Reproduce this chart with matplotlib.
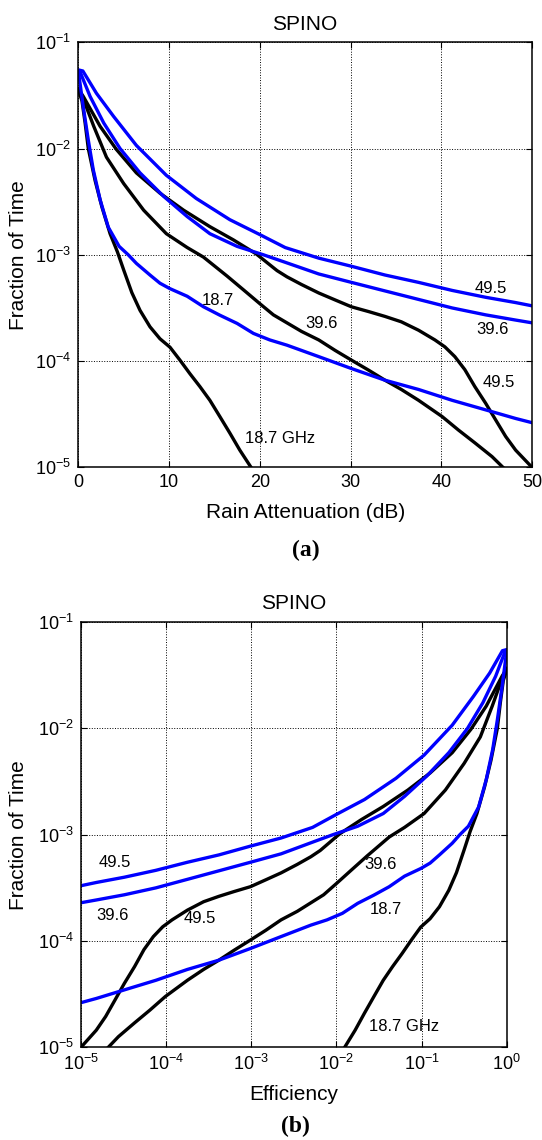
import numpy as np
import matplotlib
matplotlib.use("Agg")
import matplotlib.pyplot as plt
from matplotlib.ticker import FixedLocator, NullLocator

plt.rcParams['font.family'] = ['Liberation Sans', 'DejaVu Sans']
plt.rcParams['mathtext.fontset'] = 'custom'
plt.rcParams['mathtext.rm'] = 'Liberation Sans'
plt.rcParams['mathtext.it'] = 'Liberation Sans:italic'
plt.rcParams['mathtext.bf'] = 'Liberation Sans:bold'

# rain attenuation (dB) vs fraction of time
blk187_db = [0, 0.4, 0.75, 1.1, 1.85, 2.6, 3.5, 4.3, 5.0, 5.9, 6.8, 7.9, 9.0, 10.1,
             11.2, 12.3, 13.4, 14.5, 15.6, 16.7, 17.8, 19.1]
blk187_p = [3.55e-2, 2.82e-2, 1.74e-2, 1.0e-2, 5.0e-3, 2.82e-3, 1.58e-3, 1.07e-3, 7.2e-4,
            4.4e-4, 3.0e-4, 2.1e-4, 1.62e-4, 1.35e-4, 1.02e-4, 7.6e-5, 5.75e-5, 4.27e-5,
            3.0e-5, 2.1e-5, 1.45e-5, 9.8e-6]

blk396_db = [0, 0.4, 1.7, 3.1, 5.0, 7.2, 9.7, 12.0, 13.8, 16.4, 18.2, 20.0, 21.5, 22.8,
             24.6, 26.5, 28.3, 30.1, 32.0, 33.8, 35.6, 37.5, 40.1, 41.9, 43.7, 45.6, 46.9]
blk396_p = [3.63e-2, 3.16e-2, 1.62e-2, 8.3e-3, 4.68e-3, 2.63e-3, 1.58e-3, 1.17e-3, 9.5e-4,
            6.3e-4, 4.68e-4, 3.47e-4, 2.72e-4, 2.34e-4, 1.9e-4, 1.58e-4, 1.26e-4, 1.02e-4,
            8.2e-5, 6.6e-5, 5.4e-5, 4.27e-5, 3.0e-5, 2.24e-5, 1.7e-5, 1.26e-5, 9.8e-6]

blk495_db = [0, 0.55, 2.4, 4.2, 6.4, 9.0, 11.6, 14.5, 17.1, 19.6, 21.9, 23.0, 24.6,
             26.5, 28.3, 30.1, 32.0, 33.8, 35.6, 37.5, 39.3, 40.4, 41.5, 42.6, 43.7, 44.9,
             46.0, 47.1, 48.2, 50]
blk495_p = [3.63e-2, 3.09e-2, 1.62e-2, 9.8e-3, 5.9e-3, 3.8e-3, 2.63e-3, 1.84e-3, 1.38e-3,
            1.02e-3, 7.1e-4, 6.2e-4, 5.25e-4, 4.37e-4, 3.76e-4, 3.24e-4, 2.92e-4,
            2.63e-4, 2.34e-4, 1.95e-4, 1.58e-4, 1.36e-4, 1.1e-4, 8.3e-5, 5.75e-5, 4.0e-5,
            2.79e-5, 1.95e-5, 1.45e-5, 1.0e-5]

blu187_db = [0, 0.55, 1.1, 1.65, 2.4, 3.3, 4.5, 5.5, 6.4, 7.9, 9.0, 10.1, 12.0, 13.8, 15.6,
             17.5, 19.3, 21.1, 23.0, 26.5, 30.1, 33.8, 37.5, 41.2, 44.9, 48.2, 50]
blu187_p = [5.37e-2, 2.45e-2, 1.2e-2, 6.3e-3, 3.3e-3, 1.82e-3, 1.2e-3, 1.0e-3, 8.3e-4,
            6.45e-4, 5.4e-4, 4.8e-4, 4.07e-4, 3.24e-4, 2.7e-4, 2.26e-4, 1.82e-4, 1.58e-4,
            1.41e-4, 1.1e-4, 8.5e-5, 6.6e-5, 5.4e-5, 4.27e-5, 3.47e-5, 2.88e-5, 2.63e-5]

blu396_db = [0, 0.2, 1.3, 2.8, 4.6, 6.8, 9.4, 12.0, 14.5, 17.5, 20.4, 22.8, 26.5, 30.1,
             33.8, 37.5, 41.2, 44.9, 48.2, 50]
blu396_p = [5.37e-2, 5.25e-2, 3.09e-2, 1.74e-2, 1.0e-2, 5.9e-3, 3.55e-3, 2.29e-3, 1.58e-3,
            1.2e-3, 1.0e-3, 8.5e-4, 6.6e-4, 5.5e-4, 4.57e-4, 3.8e-4, 3.16e-4, 2.72e-4,
            2.43e-4, 2.29e-4]

blu495_db = [0, 0.5, 2.0, 3.9, 6.4, 9.7, 13.0, 16.7, 20.0, 22.8, 26.5, 30.1, 33.8, 37.5,
             41.2, 44.9, 48.2, 50]
blu495_p = [5.5e-2, 5.37e-2, 3.31e-2, 2.0e-2, 1.07e-2, 5.6e-3, 3.39e-3, 2.14e-3, 1.55e-3,
            1.17e-3, 9.3e-4, 7.8e-4, 6.45e-4, 5.5e-4, 4.62e-4, 3.98e-4, 3.55e-4, 3.31e-4]

curves = [
    (blk187_db, blk187_p, 'black'),
    (blk396_db, blk396_p, 'black'),
    (blk495_db, blk495_p, 'black'),
    (blu187_db, blu187_p, 'blue'),
    (blu396_db, blu396_p, 'blue'),
    (blu495_db, blu495_p, 'blue'),
]

# labels: (text, attenuation dB, fraction) for (a); (text, efficiency, fraction) for (b)
labels_a = [('49.5', 45.5, 4.84e-4), ('39.6', 45.6, 2.0e-4), ('49.5', 46.3, 6.3e-5),
            ('39.6', 26.8, 2.26e-4), ('18.7', 15.4, 3.7e-4)]
ghz_a = ('18.7 GHz', 18.4, 1.87e-5)
labels_b = [('49.5', 2.48e-5, 5.44e-4), ('39.6', 2.34e-5, 1.75e-4), ('49.5', 2.48e-4, 1.62e-4),
            ('39.6', 3.27e-2, 5.28e-4), ('18.7', 3.8e-2, 1.98e-4)]
ghz_b = ('18.7 GHz', 2.4e-2, 1.56e-5)

yticks = [1e-5, 1e-4, 1e-3, 1e-2, 1e-1]


def style_axes(ax):
    ax.set_yscale('log')
    ax.set_ylim(1e-5, 1e-1)
    ax.yaxis.set_major_locator(FixedLocator(yticks))
    ax.yaxis.set_minor_locator(NullLocator())
    ax.grid(True, which='major', color='black', linestyle=':', linewidth=0.7)
    ax.tick_params(which='both', direction='in', length=4, width=0.8,
                   top=True, right=True, labelsize=13, pad=5)
    for s in ax.spines.values():
        s.set_linewidth(1.1)
    ax.set_ylabel('Fraction of Time', fontsize=15)
    ax.set_title('SPINO', fontsize=15, pad=9)


fig = plt.figure(figsize=(5.42, 11.4), dpi=100)

# (a) rain attenuation
ax1 = fig.add_axes([0.1445, 0.5901, 0.837, 0.3728])
for db, p, c in curves:
    ax1.plot(db, p, color=c, linewidth=2.4, solid_joinstyle='round')
ax1.set_xlim(0, 50)
ax1.set_xticks([0, 10, 20, 30, 40, 50])
style_axes(ax1)
ax1.set_xlabel('Rain Attenuation (dB)', fontsize=15)
ax1.xaxis.set_label_coords(0.5, -0.085)
ax1.yaxis.set_label_coords(-0.111, 0.5)
for t, x, y in labels_a:
    ax1.text(x, y, t, fontsize=12, ha='center', va='center')
ax1.text(ghz_a[1], ghz_a[2], ghz_a[0], fontsize=12, ha='left', va='center')

# (b) efficiency = 10^(-A/10)
ax2 = fig.add_axes([0.1494, 0.0813, 0.7855, 0.3731])
for db, p, c in curves:
    eff = 10 ** (-np.array(db) / 10.0)
    ax2.plot(eff, p, color=c, linewidth=2.4, solid_joinstyle='round')
ax2.set_xscale('log')
ax2.set_xlim(1e-5, 1)
ax2.xaxis.set_major_locator(FixedLocator([1e-5, 1e-4, 1e-3, 1e-2, 1e-1, 1]))
ax2.xaxis.set_minor_locator(NullLocator())
style_axes(ax2)
ax2.set_xlabel('Efficiency', fontsize=15)
ax2.xaxis.set_label_coords(0.5, -0.088)
ax2.yaxis.set_label_coords(-0.124, 0.5)
for t, x, y in labels_b:
    ax2.text(x, y, t, fontsize=12, ha='center', va='center')
ax2.text(ghz_b[1], ghz_b[2], ghz_b[0], fontsize=12, ha='left', va='center')

fig.text(306 / 542, 1 - 550 / 1140, '(a)', ha='center', va='center',
         family='Liberation Serif', fontweight='bold', fontsize=17)
fig.text(295 / 542, 1 - 1126 / 1140, '(b)', ha='center', va='center',
         family='Liberation Serif', fontweight='bold', fontsize=17)

fig.savefig('out.png', dpi=100)
